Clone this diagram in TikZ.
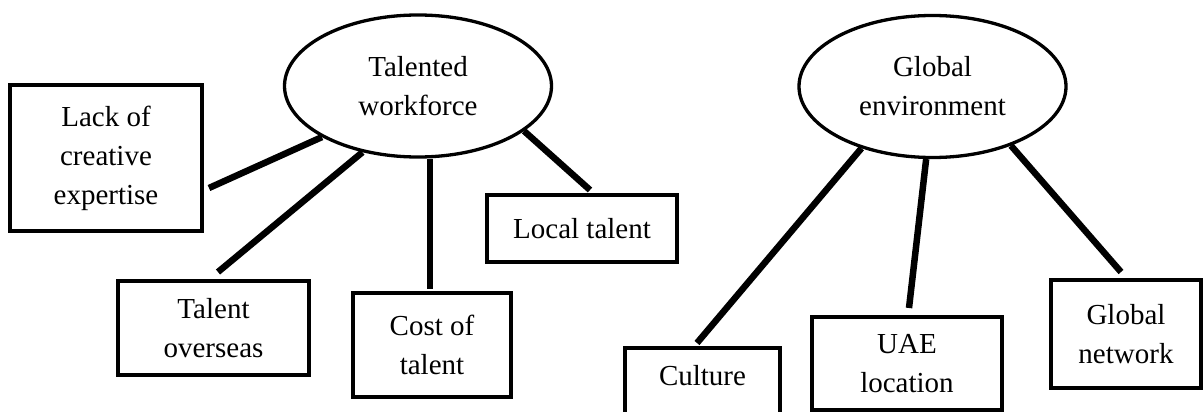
\documentclass[tikz,border=0pt]{standalone}
\usepackage{fontspec}
\setmainfont{Liberation Serif}
\usetikzlibrary{shapes.geometric,calc}
\begin{document}
\begin{tikzpicture}[x=1pt,y=-1pt,
  every node/.style={font=\fontsize{29}{39}\selectfont, align=center, inner sep=0pt},
  hub/.style={ellipse, draw, line width=3.3pt, minimum width=267pt, minimum height=142pt},
  leaf/.style={rectangle, draw, line width=4pt},
  link/.style={line width=6.5pt, line cap=butt}]
\useasboundingbox (0,0) rectangle (1203,412);
\clip (0,0) rectangle (1203,412);
\fill[white] (0,0) rectangle (1203,412);

% hubs
\node[hub] (tw) at (418,86) {Talented\\workforce};
\node[hub] (ge) at (932.5,86.5) {Global\\environment};

% leaves of Talented workforce
\node[leaf, minimum width=192pt, minimum height=146pt] (lack) at (106,158) {Lack of\\creative\\expertise};
\node[leaf, minimum width=191pt, minimum height=94pt] (over) at (213.5,328) {Talent\\overseas};
\node[leaf, minimum width=158pt, minimum height=104pt] (cost) at (432,345) {Cost of\\talent};
\node[leaf, minimum width=190pt, minimum height=67pt] (local) at (582,228.5) {Local talent};

% leaves of Global environment
\node[leaf, minimum width=155pt, minimum height=94pt] (cult) at (702.5,395) {Culture\\\mbox{}};
\node[leaf, minimum width=190pt, minimum height=93pt] (uae) at (907,363.5) {UAE\\location};
\node[leaf, minimum width=150pt, minimum height=108pt] (gnet) at (1126,334) {Global\\network};

% connector end points at the boxes
\coordinate (lackend) at ($(lack.east)+(5,30)$);
\coordinate (overend) at ($(over.north)+(4.5,-7)$);
\coordinate (costend) at ($(cost.north)+(-2,-2)$);
\coordinate (localend) at ($(local.north)+(8,-3)$);
\coordinate (cultend) at ($(cult.north)+(-5.5,-3)$);
\coordinate (uaeend) at ($(uae.north)+(2,-7)$);
\coordinate (gnetend) at ($(gnet.north)+(-5,-6)$);

% connectors
\draw[link] (tw.208.2) -- (lackend);
\draw[link] (tw.230.1) -- (overend);
\draw[link] (costend |- tw.south) -- (costend);
\draw[link] (tw.-23.3) -- (localend);
\draw[link] (ge.221.8) -- (cultend);
\draw[link] (ge.265.8) -- (uaeend);
\draw[link] (ge.-37.9) -- (gnetend);
\end{tikzpicture}
\end{document}
